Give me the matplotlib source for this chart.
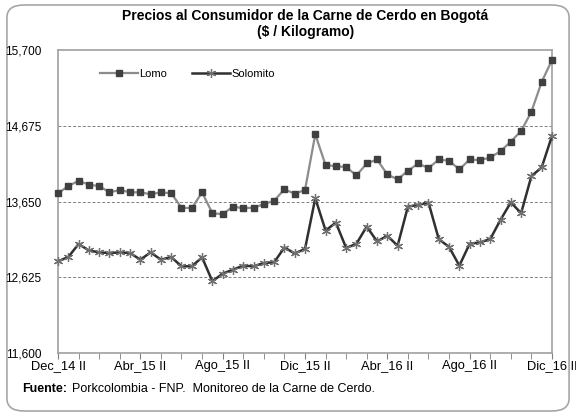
import matplotlib.pyplot as plt
from matplotlib.patches import FancyBboxPatch

plt.rcParams['font.family'] = ['Liberation Sans', 'DejaVu Sans']

# Datos (quincenal, Dec_14 II .. Dic_16 II)
lomo = [13763, 13861, 13932, 13879, 13861, 13776, 13807, 13776, 13776, 13750,
        13776, 13763, 13569, 13561, 13776, 13494, 13480, 13583, 13561, 13569,
        13615, 13663, 13816, 13758, 13807, 14560, 14144, 14130, 14117, 14005,
        14166, 14220, 14018, 13951, 14067, 14166, 14103, 14220, 14202, 14086,
        14220, 14211, 14247, 14332, 14462, 14605, 14865, 15269, 15565]
solomito = [12843, 12902, 13077, 12991, 12964, 12956, 12964, 12956, 12866, 12964,
            12866, 12902, 12776, 12776, 12897, 12574, 12677, 12731, 12785, 12776,
            12821, 12830, 13030, 12950, 13010, 13696, 13260, 13367, 13023, 13081,
            13314, 13112, 13189, 13054, 13583, 13606, 13637, 13144, 13037, 12785,
            13081, 13099, 13144, 13404, 13641, 13494, 13995, 14113, 14538]
etiquetas_x = ['Dec_14 II', 'Abr_15 II', 'Ago_15 II', 'Dic_15 II',
               'Abr_16 II', 'Ago_16 II', 'Dic_16 II']
ticks_y = [11600, 12625, 13650, 14675, 15700]

x = list(range(len(lomo)))

fig = plt.figure(figsize=(5.76, 4.16), dpi=100)

# Marco redondeado del grafico
marco = FancyBboxPatch((0.012, 0.012), 0.976, 0.976,
                       boxstyle="round,pad=0,rounding_size=0.03",
                       transform=fig.transFigure, facecolor='white',
                       edgecolor='#a6a6a6', linewidth=1.2, zorder=-10)
fig.patches.append(marco)

ax = fig.add_axes([0.1007, 0.1507, 0.8576, 0.7291])

ax.plot(x, lomo, color='#8c8c8c', linewidth=1.6, marker='s',
        markersize=3.8, markerfacecolor='#404040', markeredgecolor='#404040',
        label='Lomo', clip_on=False, zorder=3)
ax.plot(x, solomito, color='#303030', linewidth=1.8, marker=(6, 2, 0),
        markersize=6.5, markeredgecolor='#707070', markeredgewidth=0.9,
        label='Solomito', clip_on=False, zorder=3)

ax.set_xlim(0, len(lomo) - 1)
ax.set_ylim(11600, 15700)
ax.set_yticks(ticks_y)
ax.set_yticklabels([f'{v:,}' for v in ticks_y], fontsize=8.5)
ax.set_xticks(range(0, len(lomo), 2), minor=True)
ax.set_xticks(range(0, len(lomo), 8))
ax.set_xticklabels(etiquetas_x, fontsize=9.3)
ax.tick_params(axis='x', which='both', direction='out', length=4,
               color='#808080', pad=1)
ax.tick_params(axis='y', length=0, pad=12)

for v in ticks_y[1:-1]:
    ax.axhline(v, color='#808080', linestyle=(0, (3, 2)), linewidth=0.7,
               zorder=1)

for s in ax.spines.values():
    s.set_color('#a0a0a0')
    s.set_linewidth(1.2)

ax.legend(loc='center left', bbox_to_anchor=(0.085, 0.92), ncol=2,
          frameon=False, fontsize=8, handlelength=3.4, handletextpad=0.15,
          columnspacing=2.2, borderpad=0, borderaxespad=0)

fig.text(0.53, 0.962, 'Precios al Consumidor de la Carne de Cerdo en Bogotá',
         ha='center', va='center', fontsize=10, fontweight='bold')
fig.text(0.53, 0.924, '($ / Kilogramo)', ha='center', va='center',
         fontsize=10, fontweight='bold')

fig.text(0.038, 0.064, 'Fuente:', ha='left', va='center', fontsize=9,
         fontweight='bold')
fig.text(0.125, 0.064, 'Porkcolombia - FNP.  Monitoreo de la Carne de Cerdo.',
         ha='left', va='center', fontsize=9)

fig.savefig('out.png', dpi=100)
